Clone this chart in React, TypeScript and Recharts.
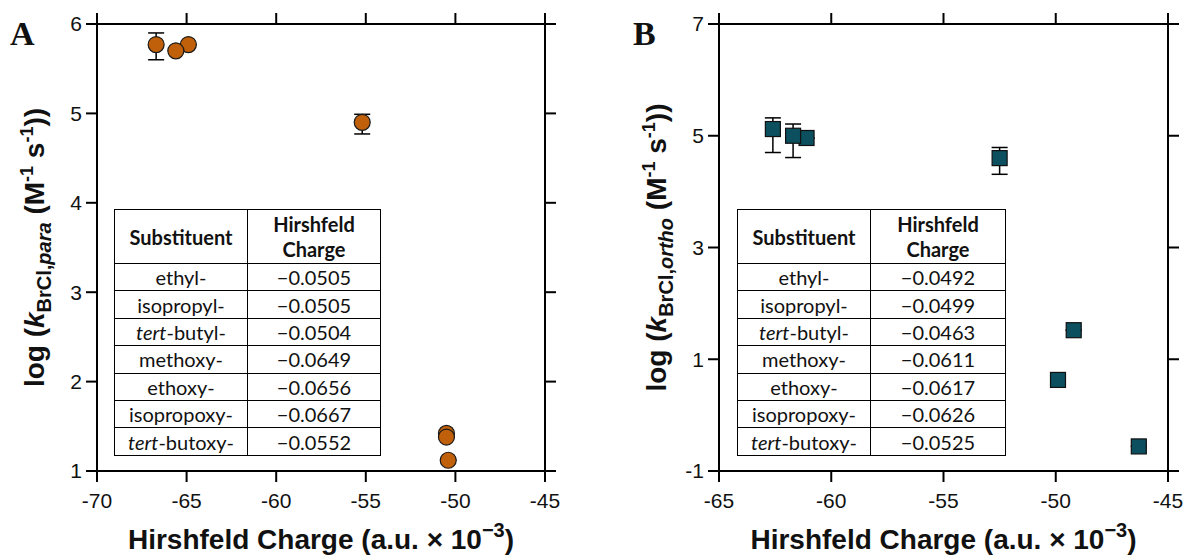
import React from 'react';
import { ScatterChart, Scatter, XAxis, YAxis, ErrorBar } from 'recharts';

// substituents as listed in both tables
const substituents = ['ethyl-', 'isopropyl-', 'tert-butyl-', 'methoxy-', 'ethoxy-', 'isopropoxy-', 'tert-butoxy-'];
const paraCharges = ['\u22120.0505', '\u22120.0505', '\u22120.0504', '\u22120.0649', '\u22120.0656', '\u22120.0667', '\u22120.0552'];
const orthoCharges = ['\u22120.0492', '\u22120.0499', '\u22120.0463', '\u22120.0611', '\u22120.0617', '\u22120.0626', '\u22120.0525'];

// panel A (para)
const paraX = [-50.5, -50.5, -50.4, -64.9, -65.6, -66.7, -55.2];
const paraY = [1.42, 1.38, 1.12, 5.77, 5.7, 5.77, 4.9];
const paraErr = [[0, 0], [0, 0], [0, 0], [0, 0], [0, 0], [0.17, 0.13], [0.13, 0.09]];
const paraXTicks = [-70, -65, -60, -55, -50, -45];
const paraYTicks = [1, 2, 3, 4, 5, 6];

// panel B (ortho)
const orthoX = [-49.2, -49.9, -46.3, -61.1, -61.7, -62.6, -52.5];
const orthoY = [1.52, 0.63, -0.56, 4.96, 5.0, 5.12, 4.6];
const orthoErr = [[0, 0], [0, 0], [0, 0], [0, 0], [0.39, 0.21], [0.42, 0.2], [0.29, 0.19]];
const orthoXTicks = [-65, -60, -55, -50, -45];
const orthoYTicks = [-1, 1, 3, 5, 7];

const ORANGE = '#C0600A';
const TEAL = '#0C4F5F';
const ARIAL = '"Liberation Sans", Arial, sans-serif';
const TABLE_FONT = 'Lato, "Open Sans", sans-serif';

const paraData = paraX.map((x, i) => ({ x, y: paraY[i], err: paraErr[i] }));
const orthoData = orthoX.map((x, i) => ({ x, y: orthoY[i], err: orthoErr[i] }));

const tickStyle = { fill: '#111', fontSize: 21, fontFamily: ARIAL };
const lineStyle = { stroke: '#000', strokeWidth: 2 };
const noLabel = () => '';

const Circle = (props: any) => (
  <circle cx={props.cx} cy={props.cy} r={8} fill={ORANGE} stroke="#1a1a1a" strokeWidth={1.2} />
);

const Square = (props: any) => (
  <rect x={props.cx - 7.5} y={props.cy - 7.5} width={15} height={15} fill={TEAL} stroke="#111" strokeWidth={1.2} />
);

const XTitle = (props: any) => {
  const vb = props.viewBox || {};
  return (
    <text x={vb.x + vb.width / 2} y={vb.y + 78} textAnchor="middle" fontFamily={ARIAL} fontWeight="bold" fontSize={28} fill="#111" stroke="none">
      Hirshfeld Charge (a.u. × 10<tspan fontSize={20} dy={-12}>{'\u22123'}</tspan><tspan dy={12}>)</tspan>
    </text>
  );
};

const YTitle = (props: any) => {
  const vb = props.viewBox || {};
  const cx = vb.x + vb.width - 53;
  const cy = vb.y + vb.height / 2;
  return (
    <text transform={`translate(${cx},${cy}) rotate(-90)`} textAnchor="middle" fontFamily={ARIAL} fontWeight="bold" fontSize={28} fill="#111" stroke="none">
      log (<tspan fontStyle="italic">k</tspan>
      <tspan fontSize={20} dy={7}>BrCl,</tspan>
      <tspan fontSize={20} fontStyle="italic">{props.sub}</tspan>
      <tspan dy={-7}> (M</tspan>
      <tspan fontSize={18} dy={-11}>-1</tspan>
      <tspan dy={11}> s</tspan>
      <tspan fontSize={18} dy={-11}>-1</tspan>
      <tspan dy={11}>))</tspan>
    </text>
  );
};

const cellBorder = '1.5px solid #000';

const SubName = ({ name }: { name: string }) =>
  name.startsWith('tert-') ? (
    <span><i>tert</i>{name.slice(4)}</span>
  ) : (
    <span>{name}</span>
  );

const ChargeTable = ({ charges, left, w1, w2 }: { charges: string[]; left: number; w1: number; w2: number }) => (
  <table
    style={{
      position: 'absolute',
      left,
      top: 209,
      borderCollapse: 'collapse',
      fontFamily: TABLE_FONT,
      fontSize: 20,
      color: '#111',
      background: '#fff',
      textAlign: 'center',
    }}
  >
    <tbody>
      <tr style={{ height: 54 }}>
        <td style={{ border: cellBorder, width: w1, padding: 0, fontWeight: 'bold' }}>Substituent</td>
        <td style={{ border: cellBorder, width: w2, padding: 0, fontWeight: 'bold', lineHeight: '25px' }}>
          Hirshfeld<br />Charge
        </td>
      </tr>
      {substituents.map((s, i) => (
        <tr key={s} style={{ height: 27.4 }}>
          <td style={{ border: cellBorder, padding: 0, lineHeight: '22px' }}>
            <SubName name={s} />
          </td>
          <td style={{ border: cellBorder, padding: 0, lineHeight: '22px' }}>{charges[i]}</td>
        </tr>
      ))}
    </tbody>
  </table>
);

const Panel = ({ data, xDomain, yDomain, xTicks, yTicks, shape, sub, margin, rightW }: any) => (
  <ScatterChart width={593} height={559} margin={margin}>
    <XAxis
      xAxisId="b"
      dataKey="x"
      type="number"
      domain={xDomain}
      ticks={xTicks}
      height={80}
      tickSize={11}
      tickMargin={11}
      axisLine={lineStyle}
      tickLine={lineStyle}
      tick={tickStyle}
      label={<XTitle />}
    />
    <XAxis
      xAxisId="t"
      dataKey="x"
      orientation="top"
      type="number"
      domain={xDomain}
      ticks={xTicks}
      height={20}
      tickSize={11}
      axisLine={lineStyle}
      tickLine={lineStyle}
      tick={tickStyle}
      tickFormatter={noLabel}
    />
    <YAxis
      yAxisId="l"
      dataKey="y"
      type="number"
      domain={yDomain}
      ticks={yTicks}
      width={40}
      tickSize={11}
      tickMargin={4}
      axisLine={lineStyle}
      tickLine={lineStyle}
      tick={tickStyle}
      label={<YTitle sub={sub} />}
    />
    <YAxis
      yAxisId="r"
      dataKey="y"
      orientation="right"
      type="number"
      domain={yDomain}
      ticks={yTicks}
      width={rightW}
      tickSize={11}
      axisLine={lineStyle}
      tickLine={lineStyle}
      tick={tickStyle}
      tickFormatter={noLabel}
    />
    <Scatter data={data} xAxisId="t" yAxisId="r" shape={() => null} isAnimationActive={false} />
    <Scatter data={data} xAxisId="b" yAxisId="l" shape={shape} isAnimationActive={false}>
      <ErrorBar dataKey="err" direction="y" width={8} stroke="#000" strokeWidth={1.5} isAnimationActive={false} />
    </Scatter>
  </ScatterChart>
);

// plot frame drawn on top of the axis lines so the box reads clearly
const Frame = ({ left, width }: { left: number; width: number }) => (
  <div
    style={{
      position: 'absolute',
      left,
      top: 23,
      width,
      height: 449,
      border: '2px solid #000',
      boxSizing: 'border-box',
      pointerEvents: 'none',
    }}
  />
);

const letterStyle: React.CSSProperties = {
  position: 'absolute',
  fontFamily: '"Liberation Serif", "Times New Roman", serif',
  fontWeight: 'bold',
  fontSize: 34,
  lineHeight: '34px',
  color: '#111',
};

export default function App() {
  return (
    <div style={{ position: 'absolute', left: 0, top: 0, width: 1186, height: 559, background: '#fff' }}>
      <div style={{ position: 'absolute', left: 0, top: 0 }}>
        <Panel
          data={paraData}
          xDomain={[-70, -45]}
          yDomain={[1, 6]}
          xTicks={paraXTicks}
          yTicks={paraYTicks}
          shape={Circle}
          sub="para"
          margin={{ top: 4, right: 28, bottom: 8, left: 57 }}
          rightW={20}
        />
      </div>
      <div style={{ position: 'absolute', left: 593, top: 0 }}>
        <Panel
          data={orthoData}
          xDomain={[-65, -45]}
          yDomain={[-1, 7]}
          xTicks={orthoXTicks}
          yTicks={orthoYTicks}
          shape={Square}
          sub="ortho"
          margin={{ top: 4, right: 4, bottom: 8, left: 86 }}
          rightW={14}
        />
      </div>
      <Frame left={96} width={450} />
      <Frame left={718} width={451} />
      <ChargeTable charges={paraCharges} left={114} w1={132} w2={132} />
      <ChargeTable charges={orthoCharges} left={737} w1={132} w2={134} />
      <div style={{ ...letterStyle, left: 10, top: 17 }}>A</div>
      <div style={{ ...letterStyle, left: 633, top: 17 }}>B</div>
    </div>
  );
}
